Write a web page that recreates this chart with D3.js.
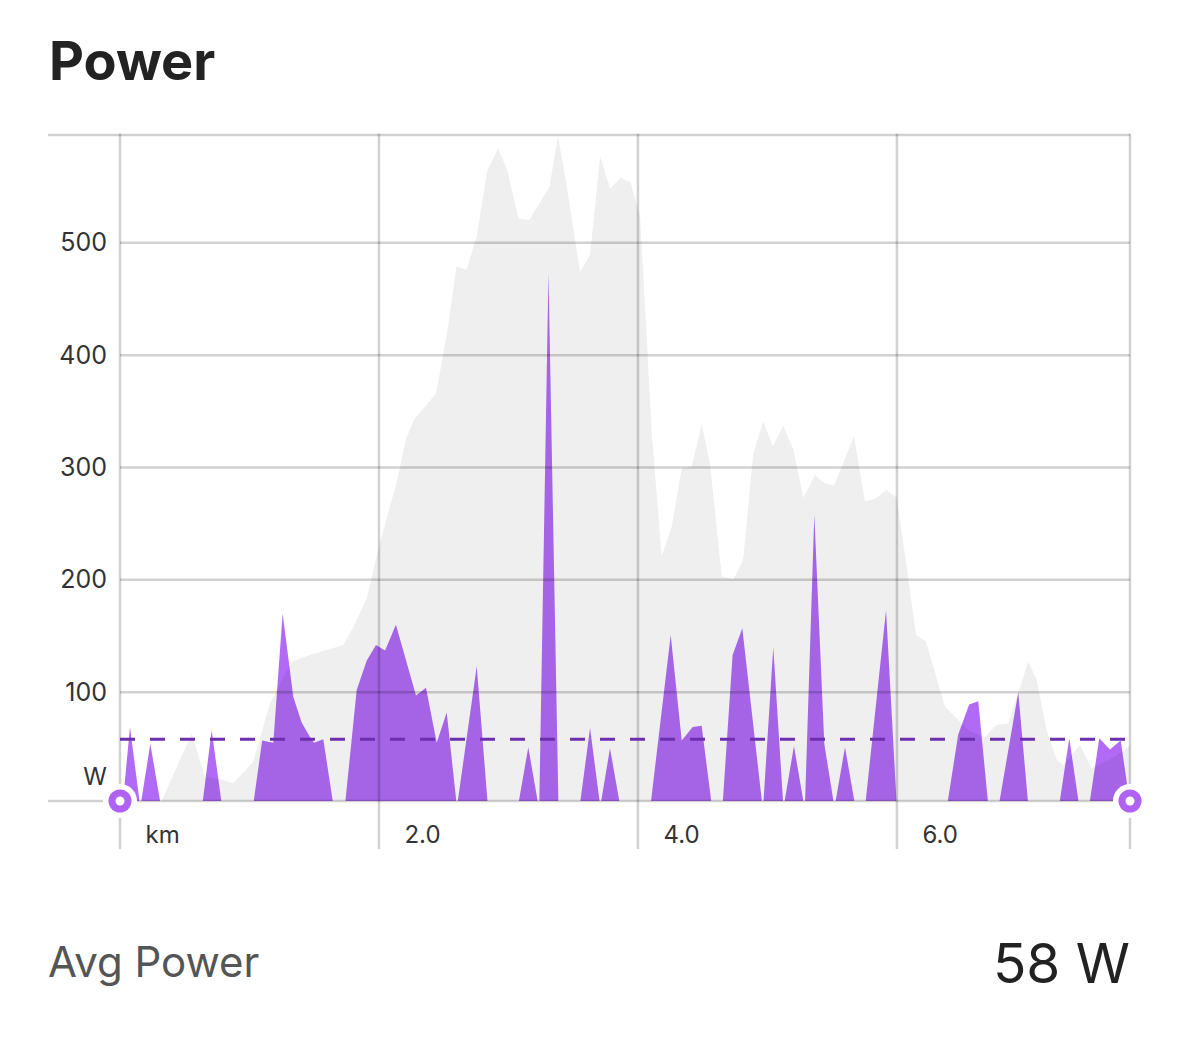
<!DOCTYPE html>
<html>
<head>
<meta charset="utf-8">
<script src="https://cdn.jsdelivr.net/npm/d3@7"></script>
<style>
  html, body { margin: 0; padding: 0; background: #fff; }
  svg { display: block; font-family: Inter, "Noto Sans", sans-serif; }
</style>
</head>
<body>
<div id="chart"></div>
<script>
// power samples (km, W)
const powerKm = [
  0.021, 0.077, 0.154, 0.160, 0.234, 0.314, 0.636, 0.708, 0.786,
  1.029, 1.098, 1.184, 1.256, 1.338, 1.403, 1.467, 1.498, 1.570, 1.647,
  1.738, 1.828, 1.905, 1.977, 2.047, 2.131, 2.286, 2.363, 2.446, 2.523, 2.600,
  2.605, 2.755, 2.840, 3.076, 3.153, 3.230, 3.238, 3.309, 3.386,
  3.552, 3.630, 3.707, 3.712, 3.784, 3.861,
  4.098, 4.253, 4.338, 4.423, 4.492, 4.569, 4.654, 4.731, 4.806, 4.960,
  4.968, 5.045, 5.122, 5.128, 5.205, 5.282, 5.290, 5.362, 5.439, 5.514,
  5.522, 5.599, 5.676, 5.756, 5.916, 5.998,
  6.389, 6.473, 6.558, 6.628, 6.705, 6.788, 6.937, 7.014,
  7.254, 7.331, 7.406, 7.486, 7.563, 7.645, 7.728, 7.800
];
const powerW = [
  0, 69, 0, 0, 54, 0, 0, 66, 0,
  0, 57, 55, 170, 96, 73, 60, 55, 58, 0,
  0, 102, 128, 142, 137, 160, 97, 104, 55, 82, 0,
  0, 123, 0, 0, 51, 0, 0, 473, 0,
  0, 68, 0, 0, 50, 0,
  0, 151, 57, 69, 70, 0, 0, 133, 157, 0,
  0, 140, 0, 0, 52, 0, 0, 258, 54, 0,
  0, 51, 0, 0, 173, 0,
  0, 62, 89, 92, 0, 0, 100, 0,
  0, 59, 0, 0, 59, 49, 57, 0
];

// grey background profile (km, same scale)
const profileKm = [
  0, 0.309, 0.554, 0.656, 0.785, 0.875, 1.029, 1.158, 1.326, 1.467, 1.724, 1.802,
  1.907, 2.012, 2.142, 2.207, 2.273, 2.442, 2.533, 2.599, 2.677, 2.755, 2.834,
  2.919, 2.990, 3.077, 3.160, 3.317, 3.382, 3.447, 3.552, 3.630, 3.708, 3.786,
  3.865, 3.943, 4.016, 4.066, 4.107, 4.183, 4.260, 4.338, 4.415, 4.492, 4.556,
  4.647, 4.736, 4.813, 4.891, 4.968, 5.041, 5.122, 5.200, 5.277, 5.367, 5.444,
  5.514, 5.586, 5.668, 5.753, 5.830, 5.916, 5.998, 6.075, 6.147, 6.224, 6.371,
  6.474, 6.565, 6.680, 6.770, 6.860, 7.014, 7.079, 7.156, 7.234, 7.285, 7.414,
  7.504, 7.645, 7.800
];
const profileVal = [
  0, 0, 63, 25, 22, 19, 38, 90, 127, 133, 142, 158,
  184, 235, 289, 325, 343, 366, 425, 479, 476, 506, 563,
  584, 565, 522, 520, 550, 595, 553, 474, 489, 577, 548,
  558, 554, 524, 420, 330, 221, 247, 299, 301, 338, 304,
  203, 200, 218, 313, 341, 319, 337, 316, 273, 293, 286,
  284, 304, 328, 270, 272, 280, 273, 212, 151, 145, 87,
  75, 65, 60, 71, 72, 127, 111, 66, 40, 35, 53,
  32, 40, 52
];

const yTicks = [100, 200, 300, 400, 500];
const xTicks = [0, 2, 4, 6];
const avgPower = 58;

const width = 1179, height = 1044;
const plotLeft = 120, plotRight = 1130, plotTop = 135, plotBottom = 801;

const svg = d3.select("#chart").append("svg")
  .attr("width", width)
  .attr("height", height);

svg.append("rect").attr("width", width).attr("height", height).attr("fill", "#fff");

const x = d3.scaleLinear().domain([0, 7.8]).range([plotLeft, plotRight]);
const y = d3.scaleLinear().domain([0, 596]).range([804.5, plotTop]);

svg.append("text")
  .attr("x", 49)
  .attr("y", 80)
  .attr("font-size", 54)
  .attr("font-weight", 700)
  .attr("fill", "#222")
  .text("Power");

svg.append("defs").append("clipPath")
  .attr("id", "plot-clip")
  .append("rect")
  .attr("x", plotLeft)
  .attr("y", plotTop)
  .attr("width", plotRight - plotLeft)
  .attr("height", plotBottom - plotTop);

// profile + power areas
const plot = svg.append("g").attr("clip-path", "url(#plot-clip)");

const profileArea = d3.area()
  .x((d, i) => x(profileKm[i]))
  .y0(y(0))
  .y1(d => y(d));

plot.append("path")
  .datum(profileVal)
  .attr("fill", "#efefef")
  .attr("d", profileArea);

const powerArea = d3.area()
  .x((d, i) => x(powerKm[i]))
  .y0(y(0))
  .y1(d => y(d));

plot.append("path")
  .datum(powerW)
  .attr("fill", "#b06af6")
  .style("mix-blend-mode", "multiply")
  .attr("d", powerArea);

// grid (translucent, on top of the areas)
const grid = svg.append("g")
  .attr("stroke", "#000")
  .attr("stroke-opacity", 0.18)
  .attr("stroke-width", 2.5);

grid.selectAll(".hline")
  .data(yTicks)
  .enter()
  .append("line")
  .attr("x1", plotLeft)
  .attr("x2", plotRight)
  .attr("y1", d => y(d))
  .attr("y2", d => y(d));

grid.append("line").attr("x1", 48).attr("x2", plotRight).attr("y1", plotTop).attr("y2", plotTop);
grid.append("line").attr("x1", 48).attr("x2", plotRight).attr("y1", plotBottom).attr("y2", plotBottom);

grid.selectAll(".vline")
  .data(xTicks.concat([7.8]))
  .enter()
  .append("line")
  .attr("x1", d => x(d))
  .attr("x2", d => x(d))
  .attr("y1", plotTop - 1.25)
  .attr("y2", 849);

// average line
svg.append("line")
  .attr("x1", plotLeft)
  .attr("x2", plotRight)
  .attr("y1", y(avgPower))
  .attr("y2", y(avgPower))
  .attr("stroke", "#6c2fb0")
  .attr("stroke-width", 3)
  .attr("stroke-dasharray", "15,15");

// y labels
const yAxis = svg.append("g")
  .attr("transform", `translate(${plotLeft},0)`)
  .call(d3.axisLeft(y).tickValues(yTicks).tickSize(0).tickPadding(13));
yAxis.select(".domain").remove();
yAxis.selectAll("text")
  .attr("font-family", "Inter, sans-serif")
  .attr("font-size", 25)
  .attr("fill", "#333");

svg.append("text")
  .attr("x", 107)
  .attr("y", y(25))
  .attr("dy", "0.35em")
  .attr("text-anchor", "end")
  .attr("font-size", 24)
  .attr("fill", "#333")
  .text("W");

// x labels
const xAxis = svg.append("g")
  .attr("transform", `translate(0,${plotBottom})`)
  .call(d3.axisBottom(x).tickValues(xTicks).tickSize(0)
    .tickFormat(d => (d === 0 ? "km" : d.toFixed(1))));
xAxis.select(".domain").remove();
xAxis.selectAll("text")
  .attr("font-family", "Inter, sans-serif")
  .attr("font-size", 24)
  .attr("fill", "#333")
  .attr("text-anchor", "start")
  .attr("x", 25)
  .attr("y", 34)
  .attr("dy", "0.35em");

// end markers
const markers = svg.selectAll(".marker")
  .data([0, 7.8])
  .enter()
  .append("g")
  .attr("transform", d => `translate(${x(d)},${plotBottom})`);
markers.append("circle").attr("r", 17).attr("fill", "#fff");
markers.append("circle").attr("r", 11.5).attr("fill", "#b062f2");
markers.append("circle").attr("r", 4.5).attr("fill", "#fff");

// footer
svg.append("text")
  .attr("x", 48)
  .attr("y", 977)
  .attr("font-size", 42)
  .attr("fill", "#555")
  .text("Avg Power");

svg.append("text")
  .attr("x", 1130)
  .attr("y", 983)
  .attr("text-anchor", "end")
  .attr("font-size", 55)
  .attr("fill", "#222")
  .text(avgPower + " W");
</script>
</body>
</html>
